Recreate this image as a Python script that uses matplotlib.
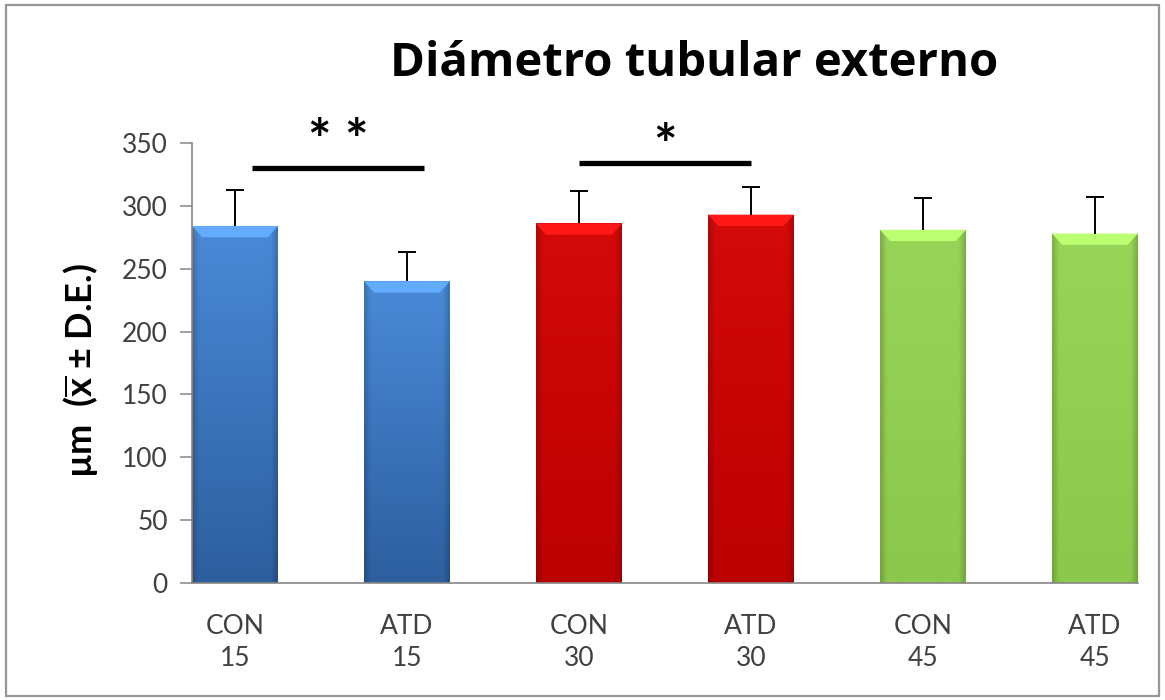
import numpy as np
import matplotlib.pyplot as plt
from matplotlib.patches import Polygon, Rectangle
from matplotlib.colors import to_rgb

# Diámetro tubular externo por grupo (media y desviación estándar)
groups = ['CON\n15', 'ATD\n15', 'CON\n30', 'ATD\n30', 'CON\n45', 'ATD\n45']
means = [284, 240, 286, 293, 281, 278]
sds = [29, 23, 26, 22, 25, 29]

# colores por día (arriba / abajo del degradado)
top_colors = ['#4a8ad8', '#4a8ad8', '#d40a0a', '#d40a0a', '#98d457', '#98d457']
bottom_colors = ['#2d5f9f', '#2d5f9f', '#bc0000', '#bc0000', '#8cc84c', '#8cc84c']

# barras de significancia: (desde, hasta, altura, etiqueta)
sig_from = [0.1, 2.0]
sig_to = [1.1, 3.0]
sig_y = [330, 334]
sig_text = ['* *', '*']
sig_gap = [0, -8]

plt.rcParams['font.family'] = ['Lato', 'DejaVu Sans']
plt.rcParams['mathtext.fontset'] = 'custom'
plt.rcParams['mathtext.bf'] = 'Lato:bold'
plt.rcParams['mathtext.rm'] = 'Lato'

fig = plt.figure(figsize=(11.65, 7.0), dpi=100)
ax = fig.add_axes([0.1648, 0.1671, 0.812, 0.6286])

x = np.arange(len(groups))
width = 0.5
bars = ax.bar(x, means, width=width, color=bottom_colors, zorder=2)

# degradado vertical con bordes laterales más oscuros
for bar, c_top, c_bot in zip(bars, top_colors, bottom_colors):
    x0, y0 = bar.get_x(), bar.get_y()
    w, h = bar.get_width(), bar.get_height()
    t = np.array(to_rgb(c_top))
    b = np.array(to_rgb(c_bot))
    ny, nx = 100, 60
    fy = np.linspace(0, 1, ny)[:, None, None]
    img = t * (1 - fy) + b * fy
    img = np.repeat(img, nx, axis=1)
    ex = np.linspace(-1, 1, nx)
    edge = 1 - 0.18 * np.clip((np.abs(ex) - 0.85) / 0.15, 0, 1)
    img = img * edge[None, :, None]
    im = ax.imshow(img, extent=[x0, x0 + w, y0, y0 + h], aspect='auto',
                   origin='upper', zorder=2.5, interpolation='bilinear')
    im.set_clip_path(bar)
    # bisel claro en la parte superior
    bev_h = 9
    inset = 0.06
    light = np.clip(t * 1.15 + 0.05, 0, 1)
    ax.add_patch(Polygon([(x0, y0 + h), (x0 + w, y0 + h),
                          (x0 + w - inset, y0 + h - bev_h),
                          (x0 + inset, y0 + h - bev_h)],
                         closed=True, facecolor=light, edgecolor='none',
                         zorder=2.6))

# solo la mitad superior de las barras de error
tops = np.array(means) + np.array(sds)
cap = 0.05
ax.vlines(x, means, tops, color='black', lw=1.4, zorder=3)
ax.hlines(tops, x - cap, x + cap, color='black', lw=1.4, zorder=3)

for x1, x2, y, txt, gap in zip(sig_from, sig_to, sig_y, sig_text, sig_gap):
    ax.plot([x1, x2], [y, y], color='black', lw=3.8, solid_capstyle='butt',
            clip_on=False, zorder=3)
    ax.text((x1 + x2) / 2, y + gap, txt, ha='center', va='bottom',
            fontsize=40, fontweight='bold', clip_on=False)

ax.set_xlim(-width / 2, len(groups) - 1 + width / 2)
ax.set_ylim(0, 350)
ax.set_yticks(range(0, 351, 50))
ax.set_xticks(x)
ax.set_xticklabels(groups, fontsize=19, color='#404040', linespacing=1.35)
ax.tick_params(axis='x', length=0, pad=22)
ax.tick_params(axis='y', length=8.5, width=1.1, color='#868686',
               labelsize=19, labelcolor='#404040', pad=9)

for side in ['top', 'right']:
    ax.spines[side].set_visible(False)
for side in ['left', 'bottom']:
    ax.spines[side].set_color('#868686')
    ax.spines[side].set_linewidth(1.2)

fig.text(0.069, 0.47, r'µm  ($\mathbf{\overline{x}}$ ± D.E.)', rotation=90,
         ha='center', va='center', fontsize=26, fontweight='bold')

fig.text(0.596, 0.91, 'Diámetro tubular externo', ha='center', va='center',
         fontsize=34, fontweight='bold', family='Open Sans')

# marco del área del gráfico
fig.patches.append(Rectangle((0.005, 0.006), 0.99, 0.987,
                             transform=fig.transFigure, fill=False,
                             edgecolor='#969696', linewidth=1.6))

fig.savefig('out.png', dpi=100)
